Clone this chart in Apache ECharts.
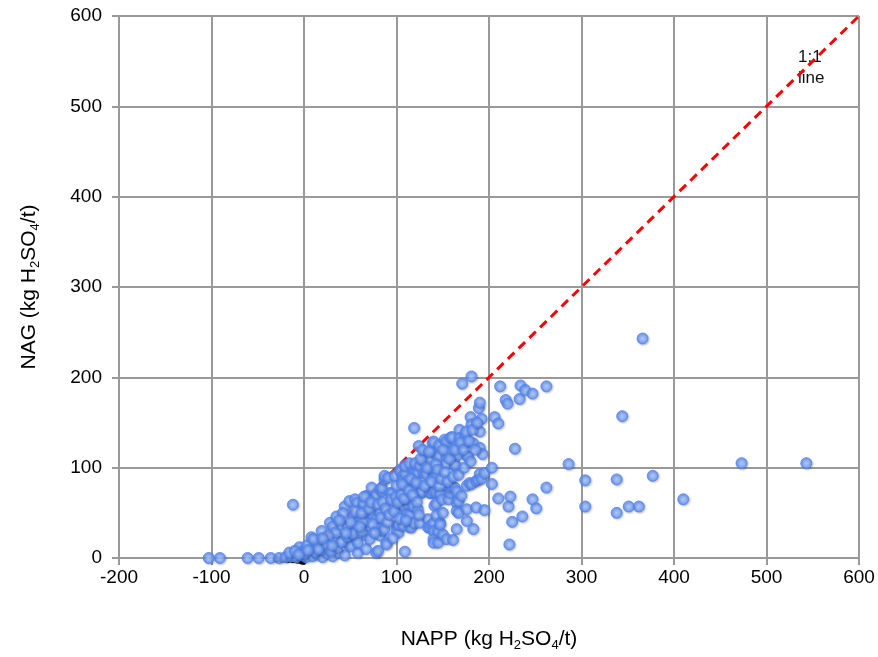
<!DOCTYPE html>
<html>
<head>
<meta charset="utf-8">
<script src="https://cdn.jsdelivr.net/npm/echarts@6/dist/echarts.min.js"></script>
<style>
html,body{margin:0;padding:0;background:#fff;}
#chart{width:878px;height:657px;}
</style>
</head>
<body>
<div id="chart"></div>
<script>
// NAPP (x) and NAG (y) values, kg H2SO4/t
var napp = [
-103,-91,-61,-49,-36,-27,-20,-14,-8,-3,2,5,9,14,20,25,31,37,44,
-12,-5,-1,3,8,12,17,10,19,22,28,31,33,35,40,44,42,47,49,48,51,53,56,57,58,58,60,
49,55,57,64,64,67,67,67,68,68,71,71,73,75,75,78,78,78,80,80,82,82,82,84,84,85,
87,87,87,89,89,91,93,93,95,98,100,100,100,102,102,104,104,104,104,107,107,107,107,
109,109,109,111,111,111,112,112,114,114,114,116,118,118,118,118,119,120,120,120,
123,123,124,125,125,125,127,127,129,129,129,131,131,131,132,134,134,136,136,136,
138,138,139,140,140,140,140,140,140,140,140,141,141,142,143,143,143,143,145,145,
146,146,147,147,147,147,149,150,150,152,154,154,154,154,156,156,158,158,158,159,
160,161,163,163,163,165,165,165,165,165,165,166,167,167,168,168,170,171,174,174,
176,176,176,176,177,179,180,181,181,181,183,183,186,186,188,189,190,190,190,190,
192,192,193,195,195,203,203,206,210,210,212,218,220,221,222,223,225,228,233,234,
236,239,247,247,251,262,262,286,304,304,338,338,344,351,362,366,377,410,473,543,
0,12,18,24,29,36,40,46,52,62,63,-16,-10,-6,
45,50,55,60,62,65,70,72,74,76,80,83,85,88,90,92,94,96,97,99,101,103,105,106,108,
110,113,115,117,121,122,124,126,128,130,133,135,137,142,144,146,148,150,152,155,
157,161,163,167,169,172,173,175,178,180,182,185,187,33,38,26,15,20,30,4
];
var nag = [
0,0,0,0,0,0,1,2,1,3,1,6,2,4,1,5,2,6,3,
59,12,8,14,23,10,17,21,30,12,39,35,21,46,37,57,50,35,21,15,13,46,32,21,6,17,43,
63,65,61,57,61,43,30,10,25,69,21,50,78,47,67,43,70,6,8,34,25,50,76,74,78,30,
87,32,91,17,15,89,58,72,72,91,80,36,30,28,37,56,50,98,96,91,58,36,87,
94,7,102,85,80,49,60,65,47,34,105,34,39,58,85,96,144,98,94,105,
54,94,124,102,74,39,72,74,107,94,87,96,115,113,93,43,34,109,72,34,
72,37,127,129,92,91,74,39,30,21,17,94,58,89,114,72,60,47,17,30,
125,113,72,71,39,37,65,50,26,131,129,112,105,21,65,118,133,72,78,80,
134,20,102,78,104,124,116,74,61,52,32,114,63,50,142,133,69,193,135,127,
113,80,54,41,113,83,156,201,148,82,127,32,56,85,87,166,172,140,122,93,
154,88,115,94,53,100,82,156,149,66,190,175,171,57,15,68,40,121,176,191,
46,186,182,65,55,78,190,104,86,57,87,50,157,57,57,243,91,65,105,105,
5,7,9,15,8,12,18,24,27,30,40,6,8,4,
28,40,52,35,50,68,55,62,38,28,60,45,62,55,40,48,65,22,52,68,62,44,70,82,66,
42,75,88,70,84,62,48,110,120,80,100,118,85,104,98,80,88,120,95,85,
110,90,120,92,128,120,100,140,130,107,142,120,150,28,42,25,10,22,14,9
];
// small dark marks just under the origin
var darkX = [-30,-24,-18,-12,-7,-3,-1];
var darkY = [-1,-1.5,-2,-2,-2.5,-3,-4];
// 1:1 reference line end points
var refLine = [[0,0],[600,600]];
var xTicks = {min:-200, max:600, interval:100};
var yTicks = {min:0, max:600, interval:100};

var pts = napp.map(function(v,i){return [v, nag[i]];});
var dark = darkX.map(function(v,i){return [v, darkY[i]];});

var chart = echarts.init(document.getElementById('chart'), null, {renderer:'canvas'});
var FONT = '"Liberation Sans", Arial, Helvetica, sans-serif';
var gridCol = '#999999';
var nameRich = {
  n:{fontSize:21, fontFamily:FONT, color:'#000', lineHeight:26},
  s:{fontSize:13, fontFamily:FONT, color:'#000', lineHeight:13, verticalAlign:'bottom', padding:[11,0,0,0]}
};
chart.setOption({
  animation:false,
  backgroundColor:'#fff',
  grid:{left:119, right:19, top:16, bottom:95, containLabel:false},
  xAxis:{
    type:'value', min:xTicks.min, max:xTicks.max, interval:xTicks.interval,
    axisLine:{show:true, onZero:false, lineStyle:{color:gridCol, width:2}},
    axisTick:{show:true, inside:false, length:7, lineStyle:{color:gridCol, width:2}},
    splitLine:{show:true, lineStyle:{color:gridCol, width:2}},
    axisLabel:{fontSize:19, fontFamily:FONT, color:'#000', margin:10},
    name:'{n|NAPP (kg H}{s|2}{n|SO}{s|4}{n|/t)}',
    nameLocation:'middle', nameGap:68,
    nameTextStyle:{rich:nameRich}
  },
  yAxis:{
    type:'value', min:yTicks.min, max:yTicks.max, interval:yTicks.interval,
    axisLine:{show:true, onZero:false, lineStyle:{color:gridCol, width:2}},
    axisTick:{show:true, inside:false, length:7, lineStyle:{color:gridCol, width:2}},
    splitLine:{show:true, lineStyle:{color:gridCol, width:2}},
    axisLabel:{fontSize:19, fontFamily:FONT, color:'#000', margin:17},
    name:'{n|NAG (kg H}{s|2}{n|SO}{s|4}{n|/t)}',
    nameLocation:'middle', nameGap:77, nameRotate:90,
    nameTextStyle:{rich:nameRich}
  },
  series:[
    {
      type:'scatter', data:dark, symbolSize:7, clip:false, z:1,
      itemStyle:{color:'#000'}, silent:true
    },
    {
      type:'line', data:refLine, symbol:'none', z:2, silent:true,
      lineStyle:{color:'#ff0000', width:3, type:[9,6]}
    },
    {
      type:'scatter', data:pts, symbolSize:11, z:3,
      itemStyle:{
        color:{type:'radial', x:0.5, y:0.5, r:0.5, colorStops:[
          {offset:0, color:'#a9c6fa'},{offset:0.5, color:'#82a9f7'},{offset:1, color:'#4a82fb'}]},
        borderColor:'#4f86fb', borderWidth:1,
        shadowBlur:2, shadowColor:'rgba(0,0,0,0.25)', shadowOffsetX:1, shadowOffsetY:1
      }
    }
  ],
  graphic:[
    {type:'text', left:798, top:49, style:{text:'1:1', fontSize:17, fontFamily:FONT, fill:'#111'}},
    {type:'text', left:798, top:70, style:{text:'line', fontSize:17, fontFamily:FONT, fill:'#111'}}
  ]
});
</script>
</body>
</html>
